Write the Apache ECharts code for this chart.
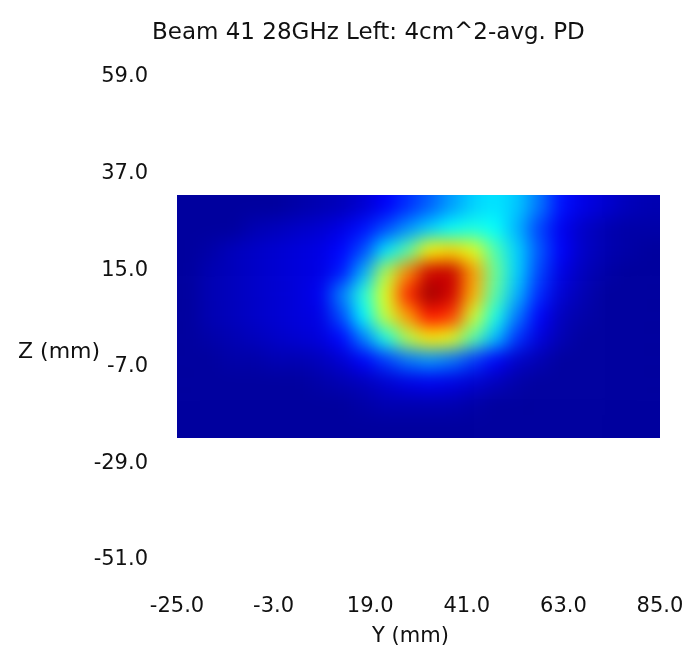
<!DOCTYPE html>
<html>
<head>
<meta charset="utf-8">
<title>Beam 41 28GHz Left</title>
<script src="https://cdn.jsdelivr.net/npm/echarts@6.0.0/dist/echarts.min.js"></script>
<style>
  html, body { margin: 0; padding: 0; background: #fff; }
  #chart { width: 692px; height: 661px; }
</style>
</head>
<body>
<div id="chart"></div>
<script>
// Y (mm) cell centres, 5 mm grid
const yCells = [-22.5, -17.5, -12.5, -7.5, -2.5, 2.5, 7.5, 12.5, 17.5, 22.5, 27.5,
  32.5, 37.5, 42.5, 47.5, 52.5, 57.5, 62.5, 67.5, 72.5, 77.5, 82.5];
// Z (mm) cell centres, top row first
const zCells = [29.5, 24.5, 19.5, 14.5, 9.5, 4.5, -0.5, -5.5, -10.5, -15.5, -20.5];
const cellSize = 5;

// normalised power density (% of peak), one row per zCells entry
const pd = [
  [3, 3, 3, 3, 3, 4, 5, 6, 8, 12, 17, 22, 28, 33, 35, 32, 24, 14, 10, 8, 6, 5],
  [3, 3, 3, 5, 6, 7, 8, 10, 14, 20, 27, 33, 38, 40, 38, 30, 19, 11, 7, 5, 4, 4],
  [3, 4, 6, 7, 8, 9, 10, 13, 20, 35, 46, 63, 66, 60, 45, 33, 21, 12, 7, 5, 4, 3],
  [3, 5, 6, 7, 8, 9, 10, 15, 30, 55, 74, 92, 93, 72, 48, 33, 19, 10, 6, 4, 3, 3],
  [3, 5, 6, 7, 8, 9, 11, 25, 41, 60, 84, 97, 92, 70, 46, 30, 16, 8, 5, 3, 3, 3],
  [3, 5, 6, 7, 8, 9, 10, 20, 37, 57, 72, 86, 82, 58, 40, 24, 12, 6, 4, 3, 3, 3],
  [3, 4, 5, 6, 7, 8, 9, 13, 25, 40, 55, 64, 60, 46, 31, 17, 9, 5, 3, 3, 3, 3],
  [3, 3, 4, 4, 5, 5, 6, 8, 12, 18, 24, 27, 24, 18, 12, 7, 5, 3, 3, 3, 3, 3],
  [3, 3, 3, 3, 3, 3, 4, 5, 6, 8, 10, 11, 10, 8, 6, 4, 3, 3, 3, 3, 3, 3],
  [3, 3, 3, 3, 3, 3, 3, 3, 4, 5, 5, 5, 5, 4, 3, 3, 3, 3, 3, 3, 3, 3],
  [3, 3, 3, 3, 3, 3, 3, 3, 3, 3, 3, 3, 3, 3, 3, 3, 3, 3, 3, 3, 3, 3]
];

// axis ticks
const yTicks = [-25, -3, 19, 41, 63, 85];
const zTicks = [-51, -29, -7, 15, 37, 59];

const jet = ["#00007f", "#0000ff", "#007fff", "#00ffff", "#7fff7f",
  "#ffff00", "#ff7f00", "#ff0000", "#7f0000"];

let data = [];
zCells.forEach(function(z, i) {
  yCells.forEach(function(y, j) {
    data.push([y, z, pd[i][j]]);
  });
});

const h = cellSize / 2;
const yLo = Math.min(...yCells), yHi = Math.max(...yCells);
const zLo = Math.min(...zCells), zHi = Math.max(...zCells);
const edgePad = 28; // outer cells are stretched so the smoothing does not fade the border

const font = "DejaVu Sans";
const txt = "#111";

let option = {
  animation: false,
  title: {
    text: "Beam 41 28GHz Left: 4cm^2-avg. PD",
    left: 152,
    top: 22,
    padding: 0,
    textStyle: { fontFamily: font, fontSize: 23, fontWeight: "normal", color: txt }
  },
  graphic: [
    {
      type: "text",
      left: 18,
      top: 341,
      style: { text: "Z (mm)", font: "22px 'DejaVu Sans'", fill: txt }
    }
  ],
  grid: { left: 177, right: 32, top: 77, bottom: 101, containLabel: false },
  xAxis: {
    type: "value",
    min: yTicks[0],
    max: yTicks[yTicks.length - 1],
    interval: yTicks[1] - yTicks[0],
    name: "Y (mm)",
    nameLocation: "middle",
    nameGap: 66,
    nameTextStyle: { fontFamily: font, fontSize: 21, color: txt, padding: [0, 16, 0, 0] },
    axisLine: { show: false },
    axisTick: { show: false },
    splitLine: { show: false },
    axisLabel: {
      margin: 36,
      fontFamily: font,
      fontSize: 21,
      color: txt,
      formatter: v => v.toFixed(1)
    }
  },
  yAxis: {
    type: "value",
    min: zTicks[0],
    max: zTicks[zTicks.length - 1],
    interval: zTicks[1] - zTicks[0],
    axisLine: { show: false },
    axisTick: { show: false },
    splitLine: { show: false },
    axisLabel: {
      margin: 29,
      fontFamily: font,
      fontSize: 21,
      color: txt,
      formatter: v => v.toFixed(1)
    }
  },
  visualMap: {
    show: false,
    type: "continuous",
    min: 0,
    max: 100,
    dimension: 2,
    seriesIndex: 0,
    inRange: { color: jet }
  },
  series: [
    {
      type: "custom",
      zlevel: 1,
      data: data,
      encode: { x: 0, y: 1 },
      renderItem: function(params, api) {
        const y = api.value(0), z = api.value(1);
        const p0 = api.coord([y - h, z + h]);
        const p1 = api.coord([y + h, z - h]);
        let x0 = p0[0], y0 = p0[1], x1 = p1[0] + 0.5, y1 = p1[1] + 0.5;
        if (y === yLo) x0 -= edgePad;
        if (y === yHi) x1 += edgePad;
        if (z === zHi) y0 -= edgePad;
        if (z === zLo) y1 += edgePad;
        return {
          type: "rect",
          shape: { x: x0, y: y0, width: x1 - x0, height: y1 - y0 },
          style: { fill: api.visual("color") }
        };
      }
    }
  ]
};

const chartObj = echarts.init(document.getElementById("chart"));
chartObj.setOption(option);

// smooth the 5 mm cells like the original interpolated map, then cut back to the scan area
function smoothMap() {
  const layer = chartObj.getZr().painter.getLayer(1);
  const tl = chartObj.convertToPixel({ gridIndex: 0 }, [yLo - h, zHi + h]);
  const br = chartObj.convertToPixel({ gridIndex: 0 }, [yHi + h, zLo - h]);
  const W = chartObj.getWidth(), H = chartObj.getHeight();
  layer.dom.style.filter = "blur(9px)";
  layer.dom.style.clipPath = "inset(" + tl[1] + "px " + (W - br[0]) + "px " +
    (H - br[1]) + "px " + tl[0] + "px)";
}
smoothMap();

window.addEventListener("resize", function() {
  chartObj.resize();
  smoothMap();
});
</script>
</body>
</html>
